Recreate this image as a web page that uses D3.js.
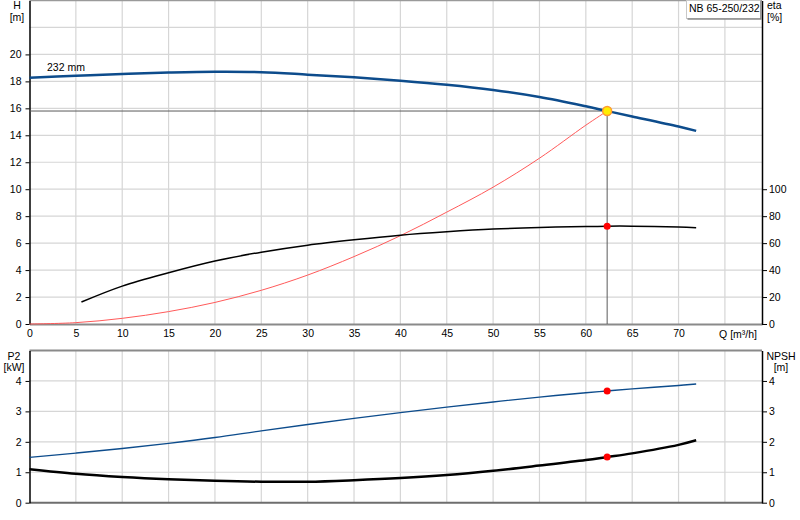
<!DOCTYPE html>
<html>
<head>
<meta charset="utf-8">
<script src="https://cdn.jsdelivr.net/npm/d3@7"></script>
<style>
body { margin: 0; background: #fff; }
text { font-family: "Liberation Sans", Arial, sans-serif; font-size: 10.5px; fill: #000; }
</style>
</head>
<body>
<div id="chart"></div>
<script>
// values
var qTicks = [0, 5, 10, 15, 20, 25, 30, 35, 40, 45, 50, 55, 60, 65, 70];
var hTicks = [0, 2, 4, 6, 8, 10, 12, 14, 16, 18, 20];
var etaTicks = [0, 20, 40, 60, 80, 100];
var lowTicks = [0, 1, 2, 3, 4];

// pump head, 232 mm impeller
var qHead = [0, 5, 10, 15, 20, 25, 30, 35, 40, 45, 50, 55, 60, 62.3, 65, 70, 71.9];
var head = [18.27, 18.42, 18.55, 18.65, 18.71, 18.68, 18.5, 18.3, 18.05, 17.75, 17.36, 16.84, 16.15, 15.8, 15.4, 14.65, 14.33];

// efficiency
var qEta = [5.6, 10, 15, 20, 25, 30, 35, 40, 45, 50, 55, 60, 62.3, 65, 70, 71.9];
var eta = [16.3, 28.1, 38, 46.7, 53.3, 58.5, 62.5, 65.9, 68.4, 70.4, 71.6, 72.3, 72.6, 72.6, 71.9, 71.4];

// system curve
var qSys = [0, 5, 10, 15, 20, 25, 30, 35, 40, 45, 50, 55, 60, 62.3];
var hSys = [0, 0.1, 0.42, 0.92, 1.6, 2.5, 3.63, 5.0, 6.55, 8.3, 10.15, 12.3, 14.75, 15.8];

// power and npsh
var qLow = [0, 5, 10, 15, 20, 25, 30, 35, 40, 45, 50, 55, 60, 62.3, 65, 70, 71.9];
var p2 = [1.49, 1.63, 1.78, 1.95, 2.14, 2.36, 2.57, 2.77, 2.96, 3.14, 3.31, 3.47, 3.61, 3.67, 3.74, 3.85, 3.9];
var npsh = [1.1, 0.95, 0.845, 0.77, 0.72, 0.69, 0.69, 0.74, 0.81, 0.91, 1.05, 1.22, 1.4, 1.5, 1.62, 1.9, 2.05];

// duty point
var dutyQ = 62.3;
var dutyH = 15.8;
var dutyEta = 72.6;
var dutyP2 = 3.67;
var dutyNpsh = 1.5;

var svgWidth = 800;
var svgHeight = 520;

var svg = d3.select("#chart")
    .append("svg")
    .attr("width", svgWidth)
    .attr("height", svgHeight);

// scales
var x = d3.scaleLinear().domain([0, 79]).range([29.5, 762]);
var yH = d3.scaleLinear().domain([0, 24]).range([324, 0.5]);
var yEta = d3.scaleLinear().domain([0, 240]).range([324, 0.5]);
var yLow = d3.scaleLinear().domain([0, 5]).range([502.7, 350.5]);

var gridColor = "#d6d6d6";

// grid for upper chart
svg.append("g")
    .selectAll("line")
    .data(d3.range(5, 79, 5))
    .enter()
    .append("line")
    .attr("x1", d => x(d)).attr("x2", d => x(d))
    .attr("y1", yH(24)).attr("y2", yH(0))
    .attr("stroke", gridColor).attr("stroke-width", 1.2);

svg.append("g")
    .selectAll("line")
    .data(d3.range(2, 25, 2))
    .enter()
    .append("line")
    .attr("x1", x(0)).attr("x2", x(79))
    .attr("y1", d => yH(d)).attr("y2", d => yH(d))
    .attr("stroke", d => d === 24 ? "#9a9a9a" : gridColor)
    .attr("stroke-width", d => d === 24 ? 1.5 : 1.2);

// grid for lower chart
svg.append("g")
    .selectAll("line")
    .data(d3.range(5, 79, 5))
    .enter()
    .append("line")
    .attr("x1", d => x(d)).attr("x2", d => x(d))
    .attr("y1", yLow(5)).attr("y2", yLow(0))
    .attr("stroke", gridColor).attr("stroke-width", 1.2);

svg.append("g")
    .selectAll("line")
    .data([1, 2, 3, 4, 5])
    .enter()
    .append("line")
    .attr("x1", x(0)).attr("x2", x(79))
    .attr("y1", d => yLow(d)).attr("y2", d => yLow(d))
    .attr("stroke", d => d === 5 ? "#8a8a8a" : gridColor)
    .attr("stroke-width", d => d === 5 ? 2 : 1.2);

// axes, upper chart
var xAxis = svg.append("g")
    .attr("transform", `translate(0, ${yH(0)})`)
    .call(d3.axisBottom(x).tickValues(qTicks).tickSize(0).tickPadding(6));
xAxis.select(".domain").attr("stroke", "#8a8a8a").attr("stroke-width", 2);

var hAxis = svg.append("g")
    .attr("transform", `translate(${x(0)}, 0)`)
    .call(d3.axisLeft(yH).tickValues(hTicks).tickSize(4).tickSizeOuter(0).tickPadding(4));
hAxis.select(".domain").attr("stroke-width", 1.5);

var etaAxis = svg.append("g")
    .attr("transform", `translate(${x(79)}, 0)`)
    .call(d3.axisRight(yEta).tickValues(etaTicks).tickSize(5).tickSizeOuter(0).tickPadding(2));
etaAxis.select(".domain").attr("stroke-width", 1.5);

// axes, lower chart
svg.append("line")
    .attr("x1", x(0)).attr("x2", x(79))
    .attr("y1", yLow(0)).attr("y2", yLow(0))
    .attr("stroke", "#6e6e6e").attr("stroke-width", 2);

var p2Axis = svg.append("g")
    .attr("transform", `translate(${x(0)}, 0)`)
    .call(d3.axisLeft(yLow).tickValues(lowTicks).tickFormat(d3.format("d"))
        .tickSize(4).tickSizeOuter(0).tickPadding(4));
p2Axis.select(".domain").attr("stroke-width", 1.5);

var npshAxis = svg.append("g")
    .attr("transform", `translate(${x(79)}, 0)`)
    .call(d3.axisRight(yLow).tickValues(lowTicks).tickFormat(d3.format("d"))
        .tickSize(5).tickSizeOuter(0).tickPadding(2));
npshAxis.select(".domain").attr("stroke-width", 1.5);

svg.selectAll(".tick text")
    .style("font-family", "'Liberation Sans', Arial, sans-serif")
    .style("font-size", "10.5px");

// axis titles
svg.append("text").attr("x", 17).attr("y", 9).attr("text-anchor", "middle").text("H");
svg.append("text").attr("x", 17).attr("y", 21).attr("text-anchor", "middle").text("[m]");
svg.append("text").attr("x", 767).attr("y", 9).text("eta");
svg.append("text").attr("x", 767).attr("y", 21).text("[%]");
svg.append("text").attr("x", 14).attr("y", 360).attr("text-anchor", "middle").text("P2");
svg.append("text").attr("x", 14).attr("y", 371).attr("text-anchor", "middle").text("[kW]");
svg.append("text").attr("x", 781).attr("y", 360).attr("text-anchor", "middle").text("NPSH");
svg.append("text").attr("x", 781).attr("y", 371).attr("text-anchor", "middle").text("[m]");
svg.append("text").attr("x", 757).attr("y", 338).attr("text-anchor", "end").text("Q [m³/h]");

// legend box with pump name
svg.append("rect")
    .attr("x", 686.5).attr("y", 0.5).attr("width", 74).attr("height", 18)
    .attr("fill", "#fff").attr("stroke", "#c8c8c8");
svg.append("path")
    .attr("d", "M687.5,19 H761 V0.5")
    .attr("fill", "none").attr("stroke", "#8a8a8a").attr("stroke-width", 1.5);
svg.append("text").attr("x", 689).attr("y", 11.5).text("NB 65-250/232");

// curve generator
function curveLine(xs, ys, yScale) {
    var pts = xs.map((q, i) => [x(q), yScale(ys[i])]);
    return d3.line().curve(d3.curveCatmullRom.alpha(0.5))(pts);
}

// duty point guide lines
svg.append("line")
    .attr("x1", x(0)).attr("x2", x(dutyQ))
    .attr("y1", yH(dutyH)).attr("y2", yH(dutyH))
    .attr("stroke", "#5a5a5a").attr("stroke-width", 1);
svg.append("line")
    .attr("x1", x(dutyQ)).attr("x2", x(dutyQ))
    .attr("y1", yH(dutyH)).attr("y2", yH(0))
    .attr("stroke", "#5a5a5a").attr("stroke-width", 1);

// system curve
svg.append("path")
    .attr("d", curveLine(qSys, hSys, yH))
    .attr("fill", "none").attr("stroke", "#ff5a5a").attr("stroke-width", 1);

// efficiency
svg.append("path")
    .attr("d", curveLine(qEta, eta, yEta))
    .attr("fill", "none").attr("stroke", "#000").attr("stroke-width", 1.5);

// head
svg.append("path")
    .attr("d", curveLine(qHead, head, yH))
    .attr("fill", "none").attr("stroke", "#0d4c8c").attr("stroke-width", 2.5);

svg.append("text").attr("x", 47).attr("y", 71).text("232 mm");

// power and npsh curves
svg.append("path")
    .attr("d", curveLine(qLow, p2, yLow))
    .attr("fill", "none").attr("stroke", "#0d4c8c").attr("stroke-width", 1.4);
svg.append("path")
    .attr("d", curveLine(qLow, npsh, yLow))
    .attr("fill", "none").attr("stroke", "#000").attr("stroke-width", 2.5);

// markers
svg.append("circle")
    .attr("cx", x(dutyQ)).attr("cy", yH(dutyH)).attr("r", 4.5)
    .attr("fill", "#ffee00").attr("stroke", "#ff9a30").attr("stroke-width", 1.5);
svg.append("circle")
    .attr("cx", x(dutyQ)).attr("cy", yEta(dutyEta)).attr("r", 3.5).attr("fill", "#ff0000");
svg.append("circle")
    .attr("cx", x(dutyQ)).attr("cy", yLow(dutyP2)).attr("r", 3.5).attr("fill", "#ff0000");
svg.append("circle")
    .attr("cx", x(dutyQ)).attr("cy", yLow(dutyNpsh)).attr("r", 3.5).attr("fill", "#ff0000");
</script>
</body>
</html>
